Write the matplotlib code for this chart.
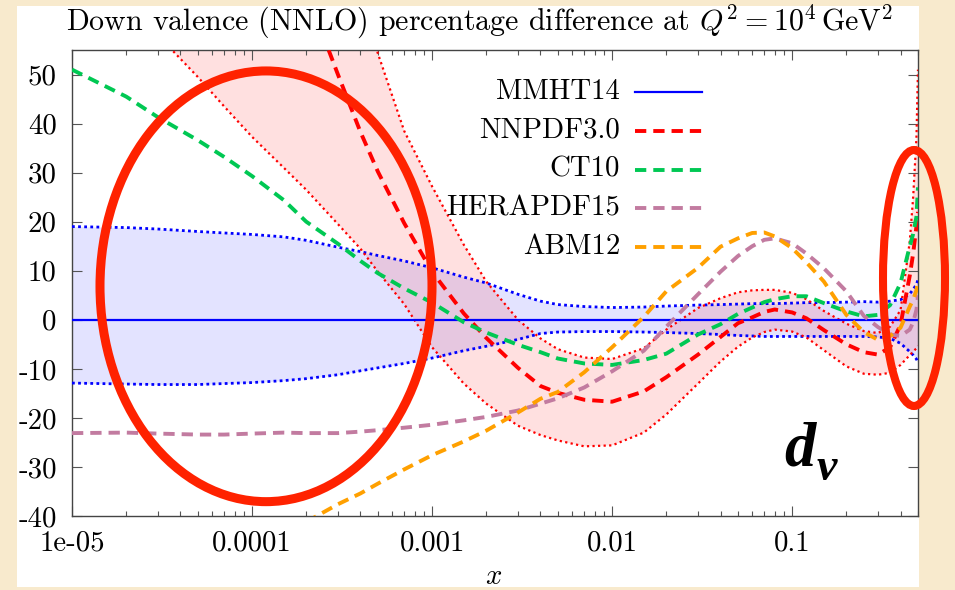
import numpy as np
import matplotlib
matplotlib.use("Agg")
import matplotlib.pyplot as plt
from matplotlib.patches import Ellipse, Rectangle
from matplotlib.lines import Line2D
from matplotlib.ticker import LogLocator, NullFormatter, FixedLocator, FixedFormatter

plt.rcParams["mathtext.fontset"] = "cm"
plt.rcParams["font.family"] = ["cmr10", "DejaVu Serif"]
plt.rcParams["axes.unicode_minus"] = False

nan = np.nan

# ---------------- data (percentage difference w.r.t. MMHT14) ----------------
x = [1e-5, 2e-5, 3e-5, 5e-5, 7e-5, 1e-4, 1.5e-4, 2e-4, 3e-4, 4e-4, 5e-4, 7e-4,
     1e-3, 1.5e-3, 2e-3, 3e-3, 4e-3, 5e-3, 7e-3, 1e-2, 1.5e-2, 2e-2, 3e-2, 4e-2,
     5e-2, 6e-2, 7e-2, 8e-2, 0.1, 0.12, 0.15, 0.2, 0.25, 0.3, 0.35, 0.4,
     0.45, 0.47, 0.49, 0.5]

mmht_central = [0.0] * len(x)
mmht_up = [19.0, 18.8, 18.5, 18.0, 17.7, 17.4, 16.9, 16.2, 14.8, 13.9, 13.1, 12.0,
           10.6, 8.7, 7.5, 5.2, 3.8, 3.1, 2.7, 2.5, 2.6, 2.8, 3.0, 3.1,
           3.2, 3.3, 3.3, 3.3, 3.4, 3.5, 3.5, 3.6, 3.7, 3.6, 3.8, 4.1,
           5.3, 6.2, 7.2, 8.2]
mmht_lo = [-12.9, -13.1, -13.2, -13.2, -13.0, -12.8, -12.4, -12.0, -11.2, -10.4, -9.8, -8.9,
           -7.8, -6.3, -5.4, -4.0, -2.8, -2.5, -2.4, -2.4, -2.5, -2.6, -2.8, -3.0,
           -3.2, -3.3, -3.4, -3.4, -3.4, -3.4, -3.4, -3.4, -3.4, -3.5, -3.8, -4.8,
           -6.5, -7.2, -8.0, -8.8]

nnpdf_central = [nan, nan, 140, 110, 98, 88, 77, 67, 50, 38.3, 30.2, 19.7,
                 9.8, 1.3, -3.7, -9.8, -13.5, -14.9, -16.3, -16.7, -14.6, -11.7, -7.1, -3.5,
                 -0.7, 0.5, 1.6, 2.1, 1.5, 0.3, -2.1, -5.0, -6.6, -7.1, -5.6, -1.0,
                 9.0, 13.5, 19.0, 22.0]
nnpdf_up = [nan, nan, 200, 160, 140, 120, 100, 88, 75, 65, 54.3, 38.5,
            27.2, 15.3, 7.8, 0.0, -3.8, -6.0, -7.7, -8.0, -5.8, -2.0, 2.4, 4.4,
            5.6, 6.0, 6.1, 6.1, 5.5, 4.2, 1.8, -0.8, -2.3, -2.7, -1.4, 2.0,
            16.0, 25.0, 37.0, 51.0]
nnpdf_lo = [nan, nan, 58, 49.5, 43.5, 37.3, 31.0, 26.5, 19.5, 14.5, 9.8, 3.2,
            -5.6, -13.0, -17.1, -21.6, -23.5, -24.6, -25.8, -25.6, -23.0, -19.3, -13.0, -8.5,
            -5.5, -3.6, -2.5, -2.0, -2.4, -3.6, -6.2, -9.5, -11.0, -11.2, -10.8, -9.2,
            -7.2, -6.5, -5.8, -5.3]

ct10 = [51.0, 45.5, 41.3, 36.6, 33.2, 29.3, 24.4, 20.0, 15.5, 12.0, 9.5, 6.4,
        3.5, -0.5, -2.6, -5.1, -6.6, -7.9, -8.9, -9.2, -8.2, -6.9, -3.0, -0.9,
        1.2, 2.5, 3.6, 4.2, 4.8, 4.8, 3.4, 1.7, 0.7, 1.0, 3.0, 7.5,
        15.0, 17.5, 21.0, 27.0]

herapdf15 = [-23.1, -23.0, -23.2, -23.4, -23.4, -23.2, -23.0, -23.1, -23.1, -22.8, -22.5, -22.0,
             -21.4, -20.5, -19.8, -18.5, -17.1, -16.0, -13.8, -10.5, -6.3, -1.4, 5.2, 9.8,
             13.0, 15.0, 16.3, 16.6, 15.6, 13.5, 10.5, 5.8, 0.8, -1.5, -3.0, -3.3,
             -2.0, -0.5, 2.0, 5.0]

abm12 = [nan, nan, nan, nan, nan, nan, nan, -41.2, -37.6, -35.4, -33.4, -30.5,
         -27.6, -24.8, -22.6, -18.9, -16.1, -14.7, -10.7, -5.6, 0.6, 5.8, 10.6, 14.9,
         16.6, 17.7, 17.8, 17.0, 14.6, 11.7, 7.8, 1.0, -2.5, -4.1, -3.3, -1.6,
         2.7, 4.1, 6.0, 8.2]

series_labels = ["MMHT14", "NNPDF3.0", "CT10", "HERAPDF15", "ABM12"]

x_ticks = [1e-5, 1e-4, 1e-3, 1e-2, 1e-1]
x_tick_labels = ["1e-05", "0.0001", "0.001", "0.01", "0.1"]
y_ticks = [-40, -30, -20, -10, 0, 10, 20, 30, 40, 50]
y_tick_labels = ["-40", "-30", "-20", "-10", "0", "10", "20", "30", "40", "50"]
x_range = (1e-5, 0.5)
y_range = (-40, 55)

title = r"Down valence (NNLO) percentage difference at $Q^2 = 10^4\,\mathrm{GeV}^2$"

# ---------------- styles ----------------
FS = 20.8
DASH = (0, (2.9, 1.8))
styles = {
    "MMHT14":    dict(color="#0000ff", lw=1.6, ls="-"),
    "NNPDF3.0":  dict(color="#ff0000", lw=2.8, ls=DASH),
    "CT10":      dict(color="#00c853", lw=2.8, ls=DASH),
    "HERAPDF15": dict(color="#c27ba0", lw=2.8, ls=DASH),
    "ABM12":     dict(color="#ffa000", lw=2.8, ls=DASH),
}
blue_dot = dict(color="#0000ff", lw=2.0, ls=(0, (1, 1.2)))
red_dot = dict(color="#ff0000", lw=1.6, ls=(0, (1, 1.5)))

W, H = 955, 590
def fx(px):
    return px / W
def fy(py):
    return 1 - py / H

fig = plt.figure(figsize=(W / 100, H / 100), dpi=100)
fig.patch.set_facecolor("#f8eacd")
fig.add_artist(Rectangle((fx(17), fy(587)), (919 - 17) / W, (587 - 6) / H,
                         transform=fig.transFigure, facecolor="white",
                         edgecolor="none", zorder=-5))

ax = fig.add_axes([fx(72), fy(516), (918 - 72) / W, (516 - 50) / H])
ax.set_facecolor("white")
ax.set_xscale("log")
ax.set_xlim(*x_range)
ax.set_ylim(*y_range)

xa = np.array(x)
ax.fill_between(xa, mmht_lo, mmht_up, color=(0, 0, 1), alpha=0.11, lw=0, zorder=1)
ax.fill_between(xa, nnpdf_lo, nnpdf_up, color=(1, 0, 0), alpha=0.12, lw=0, zorder=1.2)

ax.plot(xa, mmht_up, zorder=3, **blue_dot)
ax.plot(xa, mmht_lo, zorder=3, **blue_dot)
ax.plot(xa, nnpdf_up, zorder=3, **red_dot)
ax.plot(xa, nnpdf_lo, zorder=3, **red_dot)

curves = {"MMHT14": mmht_central, "NNPDF3.0": nnpdf_central, "CT10": ct10,
          "HERAPDF15": herapdf15, "ABM12": abm12}
for lab in series_labels:
    ax.plot(xa, curves[lab], zorder=4, label=lab, **styles[lab])

# ticks
ax.xaxis.set_major_locator(FixedLocator(x_ticks))
ax.xaxis.set_major_formatter(FixedFormatter(x_tick_labels))
ax.xaxis.set_minor_locator(LogLocator(base=10, subs=np.arange(2, 10), numticks=20))
ax.xaxis.set_minor_formatter(NullFormatter())
ax.yaxis.set_major_locator(FixedLocator(y_ticks))
ax.yaxis.set_major_formatter(FixedFormatter(y_tick_labels))
ax.tick_params(which="major", direction="in", length=7.2, width=0.8, color="#555555",
               top=True, right=True, labelsize=FS)
ax.tick_params(which="minor", direction="in", length=3.8, width=0.8, color="#555555",
               top=True, right=True)
ax.tick_params(axis="y", which="minor", left=False, right=False)
ax.tick_params(axis="x", pad=10)
ax.tick_params(axis="y", pad=11)
for s in ax.spines.values():
    s.set_color("#444444")
    s.set_linewidth(1.0)

# title and axis label
fig.text(fx(480), fy(30), title, ha="center", va="baseline", fontsize=21.6)
fig.text(fx(494), fy(584), r"$x$", ha="center", va="baseline", fontsize=FS)

# legend (gnuplot style: text then sample)
for i, lab in enumerate(series_labels):
    yy = 92.3 + 38.6 * i
    fig.text(fx(620), fy(yy + 7), lab, ha="right", va="baseline", fontsize=FS)
    fig.add_artist(Line2D([fx(635), fx(702)], [fy(yy), fy(yy)],
                          transform=fig.transFigure, **styles[lab]))

# d_v label
fig.text(fx(784), fy(465), "d", fontfamily="Liberation Serif", fontweight="bold",
         fontstyle="italic", fontsize=45, ha="left", va="baseline")
fig.text(fx(817), fy(480), "v", fontfamily="Liberation Serif", fontweight="bold",
         fontstyle="italic", fontsize=33, ha="left", va="baseline")

# red annotation ellipses
fig.add_artist(Ellipse((fx(266), fy(286.3)), 332 / W, 430.7 / H, transform=fig.transFigure,
                       fill=False, edgecolor="#ff2200", lw=6.5, zorder=20))
fig.add_artist(Ellipse((fx(914), fy(278)), 62 / W, 256 / H, transform=fig.transFigure,
                       fill=False, edgecolor="#ff2200", lw=5.8, zorder=20))

fig.savefig("out.png", dpi=100, facecolor=fig.get_facecolor())
